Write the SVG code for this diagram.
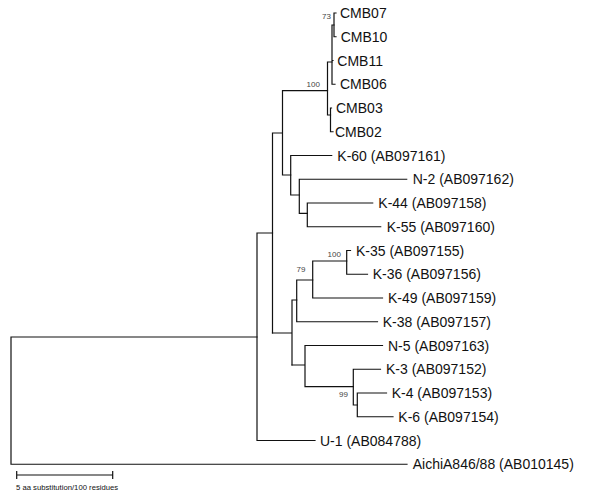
<svg xmlns="http://www.w3.org/2000/svg" width="600" height="494" viewBox="0 0 600 494">
<style>
.br{fill:none;stroke:#111;stroke-width:1.2;stroke-linecap:square}
.lb{font-family:"Liberation Sans",Arial,sans-serif;font-size:14px;fill:#111}
.bs{font-family:"Liberation Sans",Arial,sans-serif;font-size:8px;fill:#444}
.sc{font-family:"Liberation Sans",Arial,sans-serif;font-size:7.7px;fill:#111}
</style>
<rect width="600" height="494" fill="#fff"/>
<g id="connectors" class="br">
<path d="M257,337 H11 V464.25 H407"/>
<path d="M257,233 V440.5 H315 M257,233 H272.5"/>
<path d="M272.5,133 V333 M272.5,133 H282.5 V90.7 H327.5 M282.5,133 V175 H290.7"/>
<path d="M290.7,155.5 V195 M290.7,155.5 H331.7 M290.7,195 H299.3"/>
<path d="M299.3,179.25 V213.3 M299.3,179.25 H406.7 M299.3,213.3 H307.3"/>
<path d="M307.3,203 V226.75 M307.3,203 H372.7 M307.3,226.75 H380.7"/>
<path d="M327.5,62 V115 M327.5,62 H332 M327.5,115 H330.5"/>
<path d="M332,25 V84.25 M332,60.5 H333 M332,84.25 H335 M332,25 H334"/>
<path d="M334,13 V36.75 M334,13 H336 M334,36.75 H336"/>
<path d="M330.5,108 V131.75 M330.5,108 H331.5 M330.5,131.75 H333"/>
<path d="M272.5,333 H292 M292,300 V365 M292,300 H296.7"/>
<path d="M296.7,280 V321.75 M296.7,321.75 H377.5 M296.7,280 H312.7"/>
<path d="M312.7,261 V298 M312.7,298 H382.5 M312.7,261 H346.7"/>
<path d="M346.7,250.5 V274.25 M346.7,250.5 H350.5 M346.7,274.25 H367.5"/>
<path d="M292,365 H305 M305,345.5 V386.7 M305,345.5 H382.5 M305,386.7 H353.3"/>
<path d="M353.3,369.25 V405 M353.3,369.25 H380.5 M353.3,405 H357.3"/>
<path d="M357.3,393 V416.75 M357.3,393 H386.5 M357.3,416.75 H393"/>
</g>
<g id="CMB07"><text class="lb" x="340" y="18">CMB07</text></g>
<g id="CMB10"><text class="lb" x="340.7" y="41.75">CMB10</text></g>
<g id="CMB11"><text class="lb" x="337.3" y="65.5">CMB11</text></g>
<g id="CMB06"><text class="lb" x="340" y="89.25">CMB06</text></g>
<g id="CMB03"><text class="lb" x="336" y="113">CMB03</text></g>
<g id="CMB02"><text class="lb" x="335" y="136.75">CMB02</text></g>
<g id="K-60"><text class="lb" x="337.3" y="160.5">K-60 (AB097161)</text></g>
<g id="N-2"><text class="lb" x="412.7" y="184.25">N-2 (AB097162)</text></g>
<g id="K-44"><text class="lb" x="378.3" y="208">K-44 (AB097158)</text></g>
<g id="K-55"><text class="lb" x="386.7" y="231.75">K-55 (AB097160)</text></g>
<g id="K-35"><text class="lb" x="356" y="255.5">K-35 (AB097155)</text></g>
<g id="K-36"><text class="lb" x="372.7" y="279.25">K-36 (AB097156)</text></g>
<g id="K-49"><text class="lb" x="388" y="303">K-49 (AB097159)</text></g>
<g id="K-38"><text class="lb" x="382.7" y="326.75">K-38 (AB097157)</text></g>
<g id="N-5"><text class="lb" x="388" y="350.5">N-5 (AB097163)</text></g>
<g id="K-3"><text class="lb" x="386" y="374.25">K-3 (AB097152)</text></g>
<g id="K-4"><text class="lb" x="391.7" y="398">K-4 (AB097153)</text></g>
<g id="K-6"><text class="lb" x="398.3" y="421.75">K-6 (AB097154)</text></g>
<g id="U-1"><text class="lb" x="320" y="445.5">U-1 (AB084788)</text></g>
<g id="AichiA846"><text class="lb" x="412.7" y="469.25">AichiA846/88 (AB010145)</text></g>
<g id="bootstrap">
<text class="bs" x="322" y="19">73</text>
<text class="bs" x="306.5" y="87">100</text>
<text class="bs" x="327.5" y="257">100</text>
<text class="bs" x="296.5" y="272">79</text>
<text class="bs" x="339" y="397">99</text>
</g>
<g id="scalebar">
<path class="br" d="M16.7,475 H112.7 M16.7,471.7 V478.3 M112.7,471.7 V478.3"/>
<text class="sc" x="16" y="489.5">5 aa substitution/100 residues</text>
</g>
</svg>
